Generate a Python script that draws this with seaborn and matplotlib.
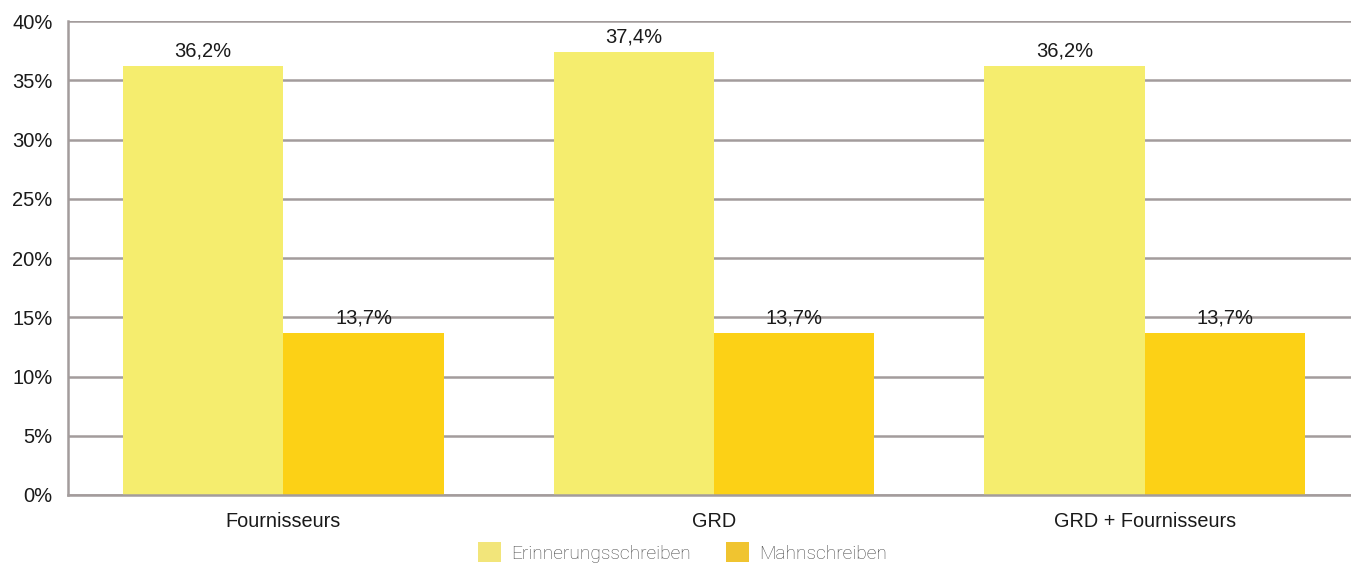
import matplotlib
matplotlib.use("Agg")
import matplotlib.pyplot as plt
import seaborn as sns
import pandas as pd
from matplotlib import font_manager
from matplotlib.patches import Patch
from matplotlib.ticker import FixedLocator

categories = ["Fournisseurs", "GRD", "GRD + Fournisseurs"]
series = ["Erinnerungsschreiben", "Mahnschreiben"]
erinnerung = [36.2, 37.4, 36.2]
mahnung = [13.7, 13.7, 13.7]
y_ticks = [0, 5, 10, 15, 20, 25, 30, 35, 40]
colors = ["#F5ED6E", "#FCD116"]

df = pd.DataFrame({
    "Kategorie": categories * 2,
    "Serie": [series[0]] * 3 + [series[1]] * 3,
    "Wert": erinnerung + mahnung,
})

sns.set_style("white")

# regular-width Liberation Sans (avoid the Narrow variant)
label_font = None
for f in font_manager.fontManager.ttflist:
    if f.name == "Liberation Sans" and f.style == "normal" and f.weight in (400, "normal") \
            and "Narrow" not in f.fname:
        label_font = f.fname
        break
plt.rcParams["font.family"] = ["Liberation Sans", "DejaVu Sans"]
fp = font_manager.FontProperties(fname=label_font) if label_font else font_manager.FontProperties(family="Liberation Sans")

fig = plt.figure(figsize=(13.51, 5.65), dpi=100)
ax = fig.add_axes([0.0503, 0.1239, 0.9564, 0.8389])

sns.barplot(data=df, x="Kategorie", y="Wert", hue="Serie", hue_order=series,
            palette=colors, width=0.745, saturation=1, ax=ax, legend=False,
            edgecolor="none", linewidth=0)

for cont in ax.containers:
    texts = ax.bar_label(cont, labels=[f"{v:.1f}%".replace(".", ",") for v in cont.datavalues],
                         padding=4, color="#1a1a1a")
    for t in texts:
        t.set_fontproperties(fp)
        t.set_fontsize(14.5)

ax.set_xlim(-0.5, 2.5)
ax.set_ylim(0, 40)
ax.set_yticks(y_ticks)
ax.set_yticklabels([f"{t}%" for t in y_ticks])
ax.yaxis.grid(True, color="#a39c9c", linewidth=1.8)
ax.set_axisbelow(True)
ax.set_xlabel("")
ax.set_ylabel("")

for side in ["top", "right"]:
    ax.spines[side].set_visible(False)
for side in ["left", "bottom"]:
    ax.spines[side].set_color("#a39c9c")
    ax.spines[side].set_linewidth(1.8)

ax.tick_params(axis="y", length=0, pad=11, labelcolor="#1a1a1a")
ax.tick_params(axis="x", which="major", length=0, pad=12, labelcolor="#1a1a1a")
for lab in ax.get_yticklabels():
    lab.set_fontproperties(fp)
    lab.set_fontsize(14.5)
for lab in ax.get_xticklabels():
    lab.set_fontproperties(fp)
    lab.set_fontsize(14.3)
ax.xaxis.set_minor_locator(FixedLocator([-0.5, 0.5, 1.5, 2.5]))
ax.tick_params(axis="x", which="minor", length=5, width=1.5, color="#a39c9c", direction="out")

handles = [Patch(facecolor="#F2E57A", edgecolor="none"),
           Patch(facecolor="#F0C430", edgecolor="none")]
fig.legend(handles, series, loc="center", bbox_to_anchor=(0.5052, 0.022), ncol=2,
           frameon=False, handlelength=1.2, handleheight=1.2, handletextpad=0.5,
           columnspacing=1.85, prop={"family": "Roboto", "size": 13.8, "weight": "light"},
           labelcolor="#444444")

fig.savefig("out.png", dpi=100, facecolor="white")
